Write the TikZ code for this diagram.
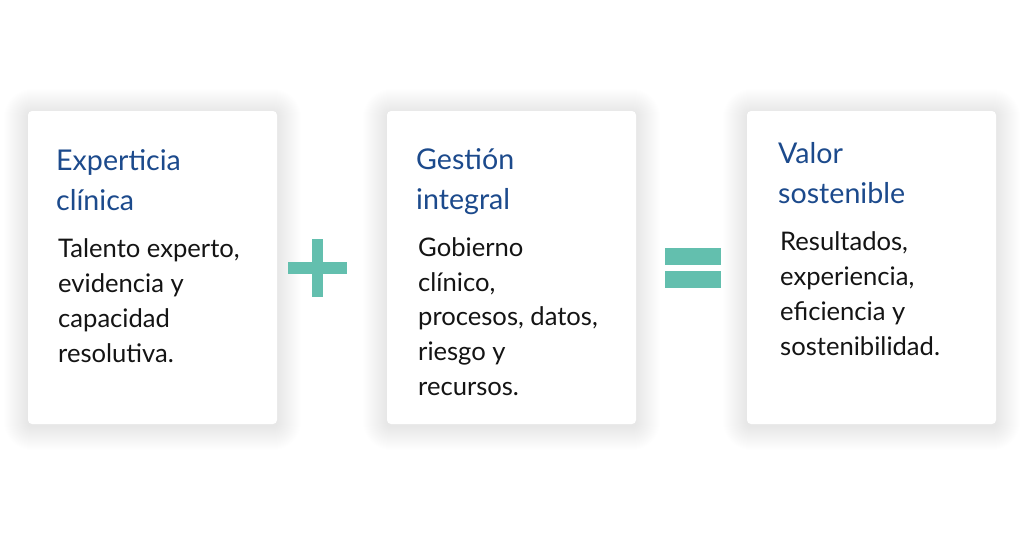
\documentclass[tikz,border=0pt]{standalone}
\usepackage{fontspec}
\setmainfont{Lato}
\definecolor{titleblue}{HTML}{1C4A8C}
\definecolor{teal}{HTML}{63BFAE}
\definecolor{bodyblack}{HTML}{141414}
\tikzset{
  card/.style={fill=white, rounded corners=4pt},
  shadowlayer/.style={fill=black, fill opacity=0.0022},
  cardtitle/.style={anchor=base west, inner sep=0pt, align=left, text=titleblue,
    font=\fontsize{28.6}{39.5}\selectfont},
  cardbody/.style={anchor=base west, inner sep=0pt, align=left, text=bodyblack,
    font=\fontsize{25.6}{34.8}\selectfont},
  sign/.style={fill=teal, draw=none}
}
\newcommand{\mycard}[4]{%
  \foreach \r [evaluate=\r as \rc using 4+\r] in {1,...,24}{%
    \path[shadowlayer, rounded corners=\rc pt] (#1-\r,#2-\r+2) rectangle (#3+\r,#4+\r+2);}
  \path[card] (#1,#2) rectangle (#3,#4);}
\begin{document}
\begin{tikzpicture}[x=1pt,y=-1pt]
\useasboundingbox (0,0) rectangle (1024,536);
\fill[white] (0,0) rectangle (1024,536);
% cards
\mycard{28}{111}{277}{424}
\mycard{387}{111}{636}{424}
\mycard{747}{111}{996}{424}
% titles (anchor at baseline of last line)
\node[cardtitle] (t1) at (56,210) {Experticia\\clínica};
\node[cardtitle] (t2) at (416,209) {Gestión\\integral};
\node[cardtitle] (t3) at (778,203) {Valor\\sostenible};
% bodies
\node[cardbody] (b1) at (58,362) {Talento experto,\\evidencia y\\capacidad\\resolutiva.};
\node[cardbody] (b2) at (418,395.5) {Gobierno\\clínico,\\procesos, datos,\\riesgo y\\recursos.};
\node[cardbody] (b3) at (780,355) {Resultados,\\experiencia,\\eficiencia y\\sostenibilidad.};
% plus
\fill[sign] (288,262) rectangle (347,274);
\fill[sign] (312,239) rectangle (323,297);
% equals
\fill[sign] (665,248) rectangle (721,264.5);
\fill[sign] (665,271) rectangle (721,288);
\end{tikzpicture}
\end{document}
